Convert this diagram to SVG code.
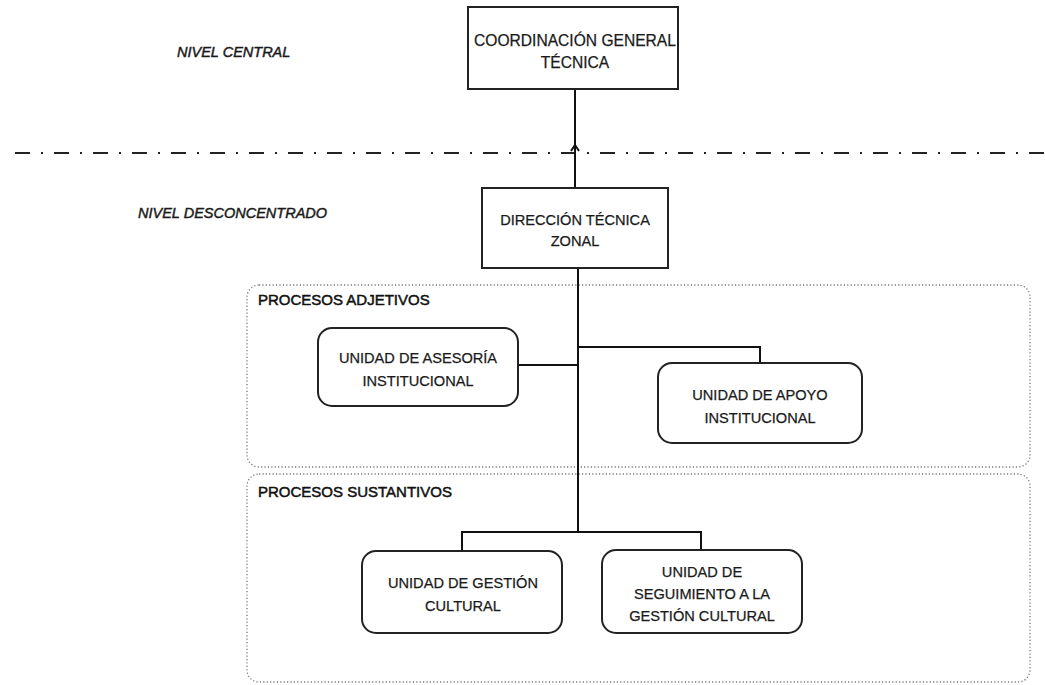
<svg xmlns="http://www.w3.org/2000/svg" width="1045" height="685" viewBox="0 0 1045 685">
<style>
.t{font-family:"Liberation Sans",Arial,sans-serif;font-size:14.6px;fill:#1a1a1a;stroke:#1a1a1a;stroke-width:0.25;text-anchor:middle}
.big{font-size:15.6px}
.lvl{font-family:"Liberation Sans",Arial,sans-serif;font-size:14.5px;font-style:italic;fill:#1a1a1a;stroke:#1a1a1a;stroke-width:0.45}
.grp{font-family:"Liberation Sans",Arial,sans-serif;font-size:15px;fill:#111;stroke:#111;stroke-width:0.5}
.box{fill:#fff;stroke:#222;stroke-width:2}
.zone{fill:none;stroke:#777;stroke-width:1.3;stroke-dasharray:1.2 2.2}
.ln{fill:none;stroke:#111;stroke-width:2}
</style>
<rect width="1045" height="685" fill="#fff"/>
<g id="zones">
<rect class="zone" x="247" y="285" width="783" height="182" rx="12"/>
<rect class="zone" x="247" y="474" width="783" height="208" rx="12"/>
<text class="grp" x="258" y="305">PROCESOS  ADJETIVOS</text>
<text class="grp" x="258" y="497">PROCESOS  SUSTANTIVOS</text>
</g>
<g id="levels">
<line x1="15" y1="153" x2="1045" y2="153" stroke="#222" stroke-width="2" stroke-dasharray="15 11 2 11"/>
<text class="lvl" x="177" y="57">NIVEL CENTRAL</text>
<text class="lvl" x="138" y="218">NIVEL DESCONCENTRADO</text>
</g>
<g id="connectors">
<line class="ln" x1="575" y1="89" x2="575" y2="188"/>
<path class="ln" d="M571,151 L575,145 L579,151" stroke-width="1.5"/>
<line class="ln" x1="578" y1="268" x2="578" y2="532"/>
<line class="ln" x1="518" y1="365" x2="578" y2="365"/>
<path class="ln" d="M578,347 H760 V363"/>
<path class="ln" d="M462,552 V532 H701 V550"/>
</g>
<g id="coordinacion">
<rect class="box" x="468" y="7" width="210" height="82"/>
<text class="t big" x="575" y="46">COORDINACIÓN GENERAL</text>
<text class="t big" x="575" y="68">TÉCNICA</text>
</g>
<g id="direccion">
<rect class="box" x="482" y="188" width="186" height="80"/>
<text class="t" x="575" y="225">DIRECCIÓN TÉCNICA</text>
<text class="t" x="575" y="246">ZONAL</text>
</g>
<g id="asesoria">
<rect class="box" x="318" y="328" width="200" height="78" rx="14"/>
<text class="t" x="418" y="363">UNIDAD DE ASESORÍA</text>
<text class="t" x="418" y="386">INSTITUCIONAL</text>
</g>
<g id="apoyo">
<rect class="box" x="658" y="363" width="204" height="80" rx="14"/>
<text class="t" x="760" y="400">UNIDAD DE APOYO</text>
<text class="t" x="760" y="423">INSTITUCIONAL</text>
</g>
<g id="gestion">
<rect class="box" x="362" y="551" width="200" height="82" rx="14"/>
<text class="t" x="463" y="588">UNIDAD DE GESTIÓN</text>
<text class="t" x="463" y="611">CULTURAL</text>
</g>
<g id="seguimiento">
<rect class="box" x="602" y="550" width="200" height="83" rx="14"/>
<text class="t" x="702" y="577">UNIDAD DE</text>
<text class="t" x="702" y="599">SEGUIMIENTO A LA</text>
<text class="t" x="702" y="621">GESTIÓN CULTURAL</text>
</g>
</svg>
